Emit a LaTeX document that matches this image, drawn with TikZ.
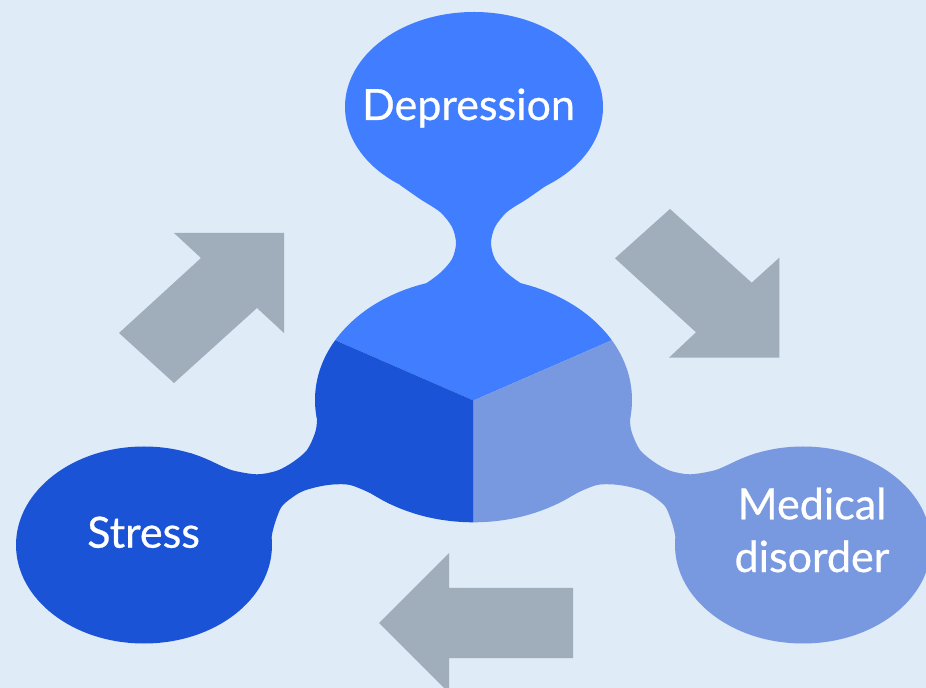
\documentclass[tikz,border=0pt]{standalone}
\usepackage{fontspec}
\newfontfamily\lblfont{Lato}[FakeBold=0.6]
\usetikzlibrary{positioning}

\definecolor{bgblue}{HTML}{DFEBF7}
\definecolor{depblue}{HTML}{417DFF}
\definecolor{strblue}{HTML}{1A53D6}
\definecolor{medblue}{HTML}{7898E0}
\definecolor{arrgray}{HTML}{9FAEBA}

\begin{document}
\begin{tikzpicture}[x=0.02cm,y=-0.02cm,
    txt/.style={text=white,font=\lblfont\fontsize{24.5}{30}\selectfont,inner sep=0pt},
    bigarrow/.style={fill=arrgray}]
  \useasboundingbox (0,0) rectangle (926,688);
  \clip (0,0) rectangle (926,688);
  \fill[bgblue] (0,0) rectangle (926,688);

  % arrows
  \fill[bigarrow] (284,233) -- (174,233) -- (201,258) -- (119,333) -- (174,383)
    -- (257,308) -- (284,333) -- cycle;
  \fill[bigarrow] (670,209) -- (751.7,282.7) -- (779.3,257.7) -- (779.3,357.7)
    -- (669,357.7) -- (696,332.3) -- (615,258.3) -- cycle;
  \fill[bigarrow] (379,623) -- (449,553) -- (449,588) -- (573,588) -- (573,658)
    -- (449,658) -- (449,693) -- cycle;

  % outer blobs
  \fill[depblue] (474,107) ellipse[x radius=129,y radius=95];
  \fill[strblue] (144,545) ellipse[x radius=128,y radius=98.5];
  \fill[medblue] (803,545) ellipse[x radius=128,y radius=98.5];

  % centre, split in three
  \begin{scope}
    \clip (473.5,400) ellipse[x radius=158.5,y radius=122.3];
    \fill[depblue] (473.5,400.5) -- (197,280) -- (197,200) -- (750,200) -- (750,280) -- cycle;
    \fill[strblue] (473.5,400.5) -- (197,280) -- (197,600) -- (473.5,600) -- cycle;
    \fill[medblue] (473.5,400.5) -- (473.5,600) -- (750,600) -- (750,280) -- cycle;
  \end{scope}

  % necks
  \fill[depblue] (400,150) -- plot[smooth] coordinates {(400,185) (420,199) (440,212)
    (452,227) (456,243) (452,259) (440,273) (420,287) (400,293)} -- (400,330) -- (547,330)
    -- plot[smooth] coordinates {(547,293) (527,287) (507,273) (495,259) (491,243)
    (495,227) (507,212) (527,199) (547,185)} -- (547,150) -- cycle;
  \fill[strblue] (345,400) -- plot[smooth] coordinates {(316,400) (317,420) (315,433)
    (307,450) (293,462) (277,470.7) (257,474.3) (233,470.5) (217,464) (200,457) (190,453)}
    -- (200,520) -- plot[smooth] coordinates {(270,545) (273,530) (277,517) (283,505)
    (300,492.5) (317,487) (333,484.5) (350,485) (370,493) (390,504)} -- (390,470) -- cycle;
  \fill[medblue] (602,400) -- plot[smooth] coordinates {(631,400) (630,420) (632,433)
    (640,450) (654,462) (670,470.7) (690,474.3) (714,470.5) (730,464) (747,457) (757,453)}
    -- (747,520) -- plot[smooth] coordinates {(677,545) (674,530) (670,517) (664,505)
    (647,492.5) (630,487) (614,484.5) (597,485) (577,493) (557,504)} -- (557,470) -- cycle;

  % labels
  \node[txt,anchor=base] (dep) at (468.5,120) {Depression};
  \node[txt,anchor=base] (str) at (143.6,547.7) {Stress};
  \node[txt,align=center] (med) at (812,530) {Medical\\disorder};
\end{tikzpicture}
\end{document}
